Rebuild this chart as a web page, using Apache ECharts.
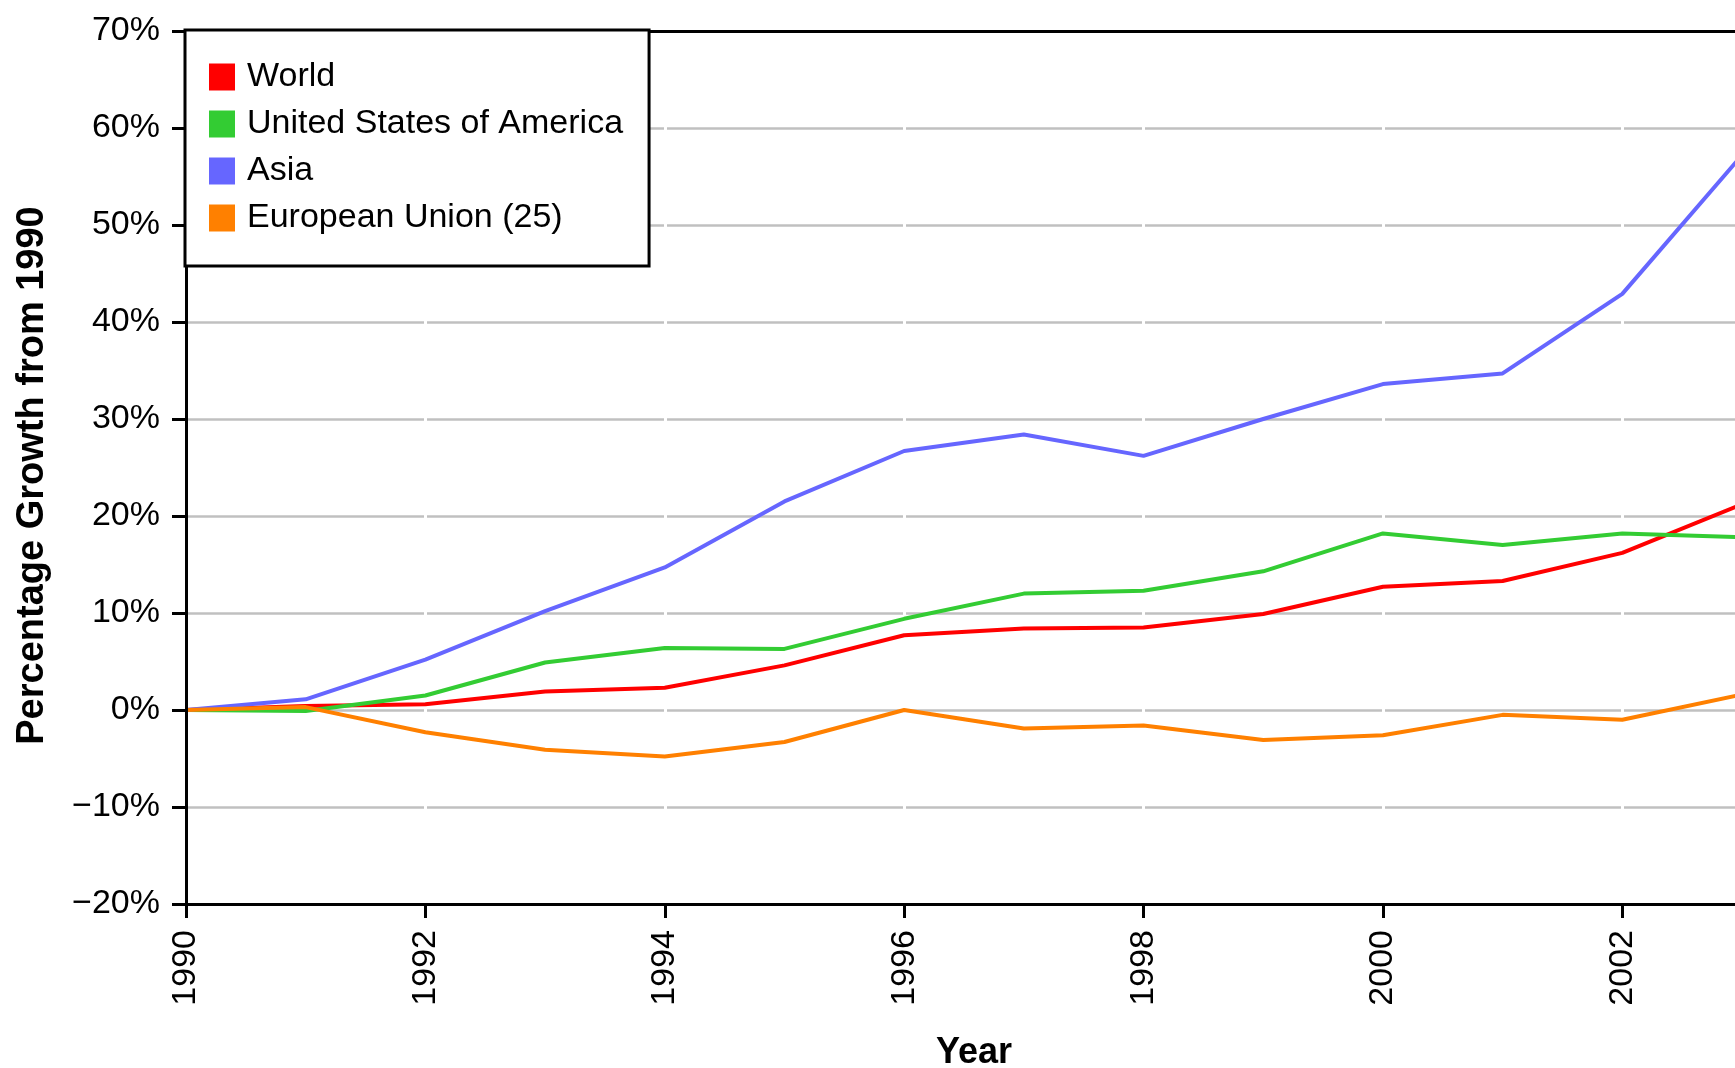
<!DOCTYPE html>
<html>
<head>
<meta charset="utf-8">
<script src="https://cdn.jsdelivr.net/npm/echarts@6/dist/echarts.min.js"></script>
<style>
html,body{margin:0;padding:0;background:#fff;}
#chart{width:1735px;height:1068px;}
</style>
</head>
<body>
<div id="chart"></div>
<script>
var years = [1990,1991,1992,1993,1994,1995,1996,1997,1998,1999,2000,2001,2002,2003];
var seriesNames = ['World','United States of America','Asia','European Union (25)'];
var world = [0, 0.4, 0.6, 1.9, 2.3, 4.6, 7.7, 8.4, 8.5, 9.9, 12.7, 13.3, 16.2, 21.2];
var usa   = [0, -0.1, 1.5, 4.9, 6.4, 6.3, 9.4, 12.0, 12.3, 14.3, 18.2, 17.0, 18.2, 17.8];
var asia  = [0, 1.1, 5.2, 10.2, 14.7, 21.5, 26.7, 28.4, 26.2, 30.0, 33.6, 34.7, 42.9, 57.2];
var eu    = [0, 0.3, -2.3, -4.1, -4.8, -3.3, 0.0, -1.9, -1.6, -3.1, -2.6, -0.5, -1.0, 1.6];
var colors = ['#ff0000','#33cc33','#6666ff','#ff8000'];
var yTicks = {min: -20, max: 70, interval: 10};
var xTicks = {min: 1990, max: 2003, interval: 2};
var xTitle = 'Year';
var yTitle = 'Percentage Growth from 1990';

var FONT = "'Liberation Sans', Arial, sans-serif";
function pairs(vals){ return years.map(function(y,i){ return [y, vals[i]]; }); }
var allVals = [world, usa, asia, eu];

var chart = echarts.init(document.getElementById('chart'), null, {renderer:'canvas'});
var option = {
  animation: false,
  backgroundColor: '#fff',
  textStyle: {fontFamily: FONT},
  grid: {left: 186, top: 31, width: 1556, height: 873, containLabel: false, outerBoundsMode: 'none'},
  legend: {
    orient: 'vertical', left: 185, top: 30,
    padding: [30, 26, 31, 24],
    itemGap: 13, itemWidth: 26, itemHeight: 27,
    icon: 'rect',
    backgroundColor: '#fff', borderColor: '#000', borderWidth: 3,
    textStyle: {fontFamily: FONT, fontSize: 34, color: '#000', padding: [0,0,0,7]},
    data: seriesNames
  },
  xAxis: [
    {type:'value', min:xTicks.min, max:xTicks.max, interval:xTicks.interval, position:'bottom', z:1,
     axisLine:{show:false, onZero:false}, axisTick:{show:false}, axisLabel:{show:false},
     splitLine:{show:true, showMinLine:false, showMaxLine:false, lineStyle:{color:'#ffffff', width:3}}},
    {type:'value', min:xTicks.min, max:xTicks.max, interval:xTicks.interval, position:'bottom', z:3,
     axisLine:{show:true, onZero:false, lineStyle:{color:'#000', width:3}},
     axisTick:{show:true, length:14, lineStyle:{color:'#000', width:3}},
     axisLabel:{show:true, rotate:90, margin:26, showMaxLabel:false, color:'#000', fontSize:34, fontFamily:FONT,
       formatter:function(v){ return String(v); }},
     splitLine:{show:false},
     name: xTitle, nameLocation:'middle', nameGap:131,
     nameTextStyle:{fontFamily:FONT, fontSize:36, fontWeight:'bold', color:'#000', padding:[0,0,0,20]}},
    {type:'value', min:xTicks.min, max:xTicks.max, interval:xTicks.interval, position:'top', z:3,
     axisLine:{show:true, onZero:false, lineStyle:{color:'#000', width:3}},
     axisTick:{show:false}, axisLabel:{show:false}, splitLine:{show:false}}
  ],
  yAxis: [
    {type:'value', min:yTicks.min, max:yTicks.max, interval:yTicks.interval, position:'left', z:0,
     axisLine:{show:false, onZero:false}, axisTick:{show:false}, axisLabel:{show:false},
     splitLine:{show:true, showMinLine:false, showMaxLine:false, lineStyle:{color:'#c0c0c0', width:2.5}}},
    {type:'value', min:yTicks.min, max:yTicks.max, interval:yTicks.interval, position:'left', z:3,
     axisLine:{show:true, onZero:false, lineStyle:{color:'#000', width:3}},
     axisTick:{show:true, length:14, lineStyle:{color:'#000', width:3}},
     axisLabel:{show:true, margin:26, color:'#000', fontSize:34, fontFamily:FONT,
       formatter:function(v){ return (v < 0 ? '\u2212' + Math.abs(v) : String(v)) + '%'; }},
     splitLine:{show:false},
     name: yTitle, nameLocation:'middle', nameGap:134, nameRotate:90,
     nameTextStyle:{fontFamily:FONT, fontSize:38, fontWeight:'bold', color:'#000', padding:[0,16,0,0]}}
  ],
  series: seriesNames.map(function(n, i){
    return {
      name: n, type: 'line', xAxisIndex: 0, yAxisIndex: 0, z: 2,
      data: pairs(allVals[i]),
      showSymbol: false, symbol: 'none',
      color: colors[i],
      itemStyle: {color: colors[i]},
      lineStyle: {color: colors[i], width: 4}
    };
  })
};
chart.setOption(option);
</script>
</body>
</html>
